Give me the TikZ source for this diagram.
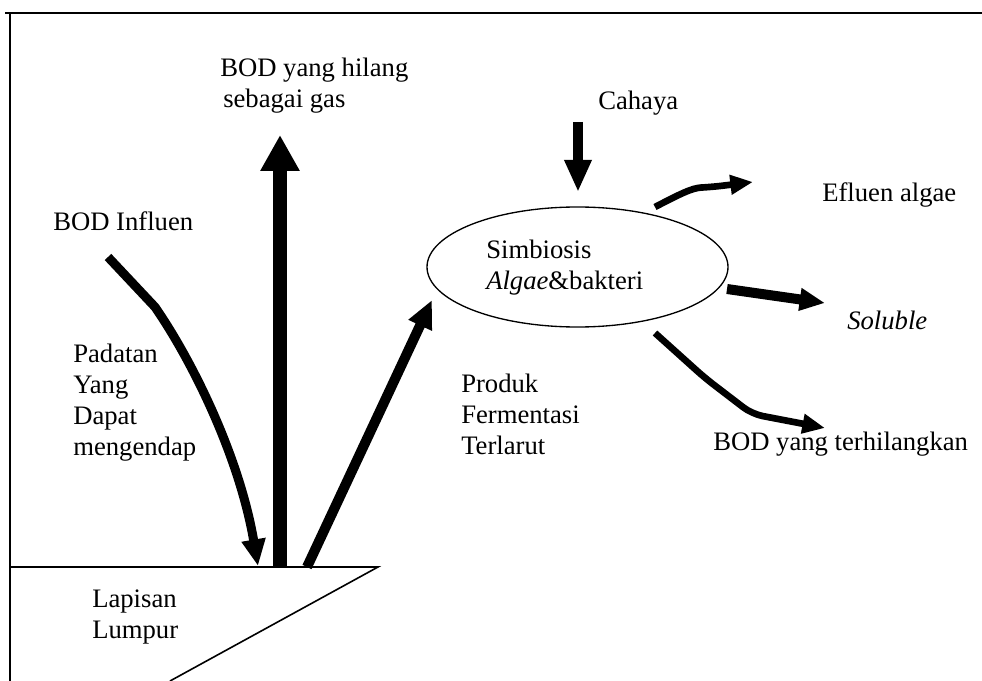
\documentclass[tikz,border=0pt]{standalone}
\usepackage{fontspec}
\setmainfont{Liberation Serif}
\usetikzlibrary{arrows.meta,shapes.geometric}
\begin{document}
\begin{tikzpicture}[x=0.75pt,y=-0.75pt,
  % multi-line labels are anchored at the baseline of their last line
  lbl/.style={font=\fontsize{20}{23.25}\selectfont, anchor=base west, inner sep=0pt, align=left},
  gasflow/.style={line width=10pt, -{Triangle[width=27.75pt,length=27pt]}},
  lightflow/.style={line width=7pt, -{Triangle[width=19pt,length=24pt]}},
  riseflow/.style={line width=7.5pt, -{Triangle[width=18pt,length=21pt]}},
  sinkflow/.style={line width=6.75pt, line join=round, -{Triangle[width=17pt,length=20pt]}},
  outflow/.style={line width=5pt, line join=round, rounded corners=8pt, -{Triangle[width=14pt,length=17pt]}},
  solflow/.style={line width=7.5pt, -{Triangle[width=16pt,length=19pt]}}
]
\useasboundingbox (0,0) rectangle (982,681);

% frame lines (top and left)
\draw[line width=1.2pt] (5,13) -- (982,13);
\draw[line width=1.2pt] (10,13) -- (10,681);

% sludge layer
\coordinate (gl) at (10,567);
\coordinate (gr) at (378,567);
\coordinate (gb) at (170,681);
\draw[line width=1.2pt] (gl) -- (gr) -- (gb);
\node[lbl] (lapisan) at (92,638) {Lapisan\\Lumpur};

% pond centre
\node[draw, line width=1pt, ellipse, minimum width=225.75pt, minimum height=90pt, inner sep=0pt] (sim) at (577.5,267) {};
\node[lbl] (simtxt) at (486,289) {Simbiosis\\\textit{Algae}\&bakteri};

% labels
\node[lbl] (gas) at (220,108) {BOD yang hilang\\\hspace*{2.25pt}sebagai gas};
\node[lbl] (cahaya) at (598,110) {Cahaya};
\node[lbl] (influen) at (53,231) {BOD Influen};
\node[lbl] (padatan) at (73,455) {Padatan\\Yang\\Dapat\\mengendap};
\node[lbl] (produk) at (461,454) {Produk\\Fermentasi\\Terlarut};
\node[lbl] (efluen) at (822,202) {Efluen algae};
\node[lbl] (soluble) at (847,329) {\textit{Soluble}};
\node[lbl] (hilang) at (713,450) {BOD yang terhilangkan};

% arrow end points
\coordinate (gasbase) at (280,567);
\coordinate (gastip) at (280,135);
\coordinate (lightbase) at (578,122);
\coordinate (lighttip) at (578,192);
\coordinate (fermbase) at (307,567);
\coordinate (fermtip) at (432,300);
\coordinate (inbase) at (108,257);
\coordinate (inbend) at (155,307);
\coordinate (intip) at (258,566);
\coordinate (efbase) at (655,207);
\coordinate (eftip) at (753,182);
\coordinate (solbase) at (727,289);
\coordinate (soltip) at (825,303);
\coordinate (hlbase) at (655,333);
\coordinate (hlbend) at (752,414);
\coordinate (hltip) at (825,428);

% flows
\draw[gasflow] (gasbase) -- (gastip);
\draw[lightflow] (lightbase) -- (lighttip);
\draw[riseflow] (fermbase) -- (fermtip);
\draw[sinkflow] (inbase) -- (inbend) .. controls (195,365) and (240,460) .. (intip);
\draw[outflow] (efbase) .. controls (680,194) and (692,188) .. (712,187) -- (eftip);
\draw[solflow] (solbase) -- (soltip);
\draw[outflow] (hlbase) -- (705,378) -- (hlbend) -- (hltip);
\end{tikzpicture}
\end{document}
